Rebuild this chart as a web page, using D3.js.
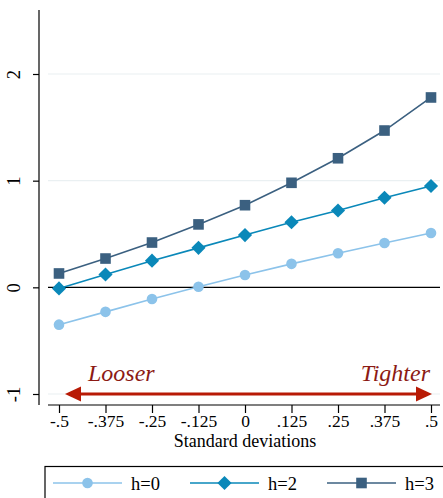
<!DOCTYPE html>
<html>
<head>
<meta charset="utf-8">
<script src="https://cdn.jsdelivr.net/npm/d3@7"></script>
<style>
  html, body { margin: 0; padding: 0; background: #fff; }
  svg, svg text { font-family: "Liberation Serif", "Times New Roman", Times, serif !important; }
</style>
</head>
<body>
<div id="chart"></div>
<script>
// Shock size in standard deviations
const shocks = [-0.5, -0.375, -0.25, -0.125, 0, 0.125, 0.25, 0.375, 0.5];
const xTickLabels = ["-.5", "-.375", "-.25", "-.125", "0", ".125", ".25", ".375", ".5"];
const yTicks = [-1, 0, 1, 2];
const yTickLabels = ["-1", "0", "1", "2"];

// Responses by horizon
const h0 = [-0.35, -0.23, -0.11, 0.005, 0.115, 0.22, 0.32, 0.415, 0.51];
const h2 = [-0.01, 0.12, 0.25, 0.37, 0.49, 0.61, 0.72, 0.84, 0.95];
const h3 = [0.13, 0.27, 0.42, 0.59, 0.77, 0.98, 1.21, 1.47, 1.78];

const seriesNames = ["h=0", "h=2", "h=3"];
const seriesValues = [h0, h2, h3];
const seriesColors = ["#8cc3ea", "#0a88b9", "#3b6080"];
const seriesShapes = ["circle", "diamond", "square"];

const W = 443, H = 498;
const svg = d3.select("#chart").append("svg").attr("width", W).attr("height", H);

const plot = { left: 48, right: 440, top: 10, bottom: 405 };
const x = d3.scaleLinear().domain([-0.5, 0.5]).range([59, 431]);
const y = d3.scaleLinear().domain([-1, 2]).range([394, 74]);
const tickSize = 17.5;
const labelSize = 18.5;

// Marker generator: circle, square, or square turned 45 degrees
function marker(sel, shape, color) {
  if (shape === "circle") {
    sel.append("circle").attr("r", 5.3).attr("fill", color);
  } else if (shape === "square") {
    sel.append("rect").attr("x", -5.3).attr("y", -5.3).attr("width", 10.6).attr("height", 10.6).attr("fill", color);
  } else {
    sel.append("rect").attr("x", -5).attr("y", -5).attr("width", 10).attr("height", 10)
      .attr("transform", "rotate(45)").attr("fill", color);
  }
}

// Gridlines
svg.append("g").selectAll("line").data(yTicks.filter(d => d !== 0)).join("line")
  .attr("x1", plot.left).attr("x2", plot.right)
  .attr("y1", d => y(d)).attr("y2", d => y(d))
  .attr("stroke", "#eaf0f2").attr("stroke-width", 1.2);

// Zero reference line
svg.append("line")
  .attr("x1", plot.left).attr("x2", plot.right)
  .attr("y1", y(0)).attr("y2", y(0))
  .attr("stroke", "#000").attr("stroke-width", 1.2);

// Y axis
const yAxis = svg.append("g").attr("transform", `translate(39,0)`)
  .call(d3.axisLeft(y).tickValues(yTicks).tickFormat((d, i) => yTickLabels[i]).tickSize(6).tickSizeOuter(0));
yAxis.attr("font-family", null);
yAxis.select(".domain").attr("d", `M0,${plot.top}V${plot.bottom}`).attr("stroke", "#000").attr("stroke-width", 1.2);
yAxis.selectAll(".tick line").attr("stroke", "#000").attr("stroke-width", 1.2);
yAxis.selectAll(".tick text")
  .attr("x", null).attr("dy", null)
  .attr("transform", "translate(-19,0) rotate(-90)")
  .attr("text-anchor", "middle")
  .attr("font-size", labelSize).attr("fill", "#000");

// X axis
const xAxis = svg.append("g").attr("transform", `translate(0,${plot.bottom})`)
  .call(d3.axisBottom(x).tickValues(shocks).tickFormat((d, i) => xTickLabels[i]).tickSize(8).tickSizeOuter(0));
xAxis.attr("font-family", null);
xAxis.select(".domain").attr("d", `M${plot.left},0H${plot.right}`).attr("stroke", "#000").attr("stroke-width", 1.2);
xAxis.selectAll(".tick line").attr("stroke", "#000").attr("stroke-width", 1.2);
xAxis.selectAll(".tick text")
  .attr("y", 22).attr("dy", null)
  .attr("font-size", tickSize).attr("fill", "#000");

svg.append("text")
  .attr("x", 245).attr("y", 447)
  .attr("text-anchor", "middle")
  .attr("font-size", 18)
  .text("Standard deviations");

// Direction arrow along the bottom
const red = "#b81a05";
const arrowY = y(-1);
const ax0 = 65, ax1 = 432;
svg.append("line")
  .attr("x1", ax0 + 12).attr("x2", ax1 - 12)
  .attr("y1", arrowY).attr("y2", arrowY)
  .attr("stroke", red).attr("stroke-width", 3.2);
svg.append("path")
  .attr("d", `M${ax0},${arrowY}L${ax0 + 16},${arrowY - 7.5}L${ax0 + 16},${arrowY + 7.5}Z`)
  .attr("fill", red);
svg.append("path")
  .attr("d", `M${ax1},${arrowY}L${ax1 - 16},${arrowY - 7.5}L${ax1 - 16},${arrowY + 7.5}Z`)
  .attr("fill", red);
svg.append("text")
  .attr("x", 88).attr("y", 381)
  .attr("font-size", 24).attr("font-style", "italic").attr("fill", "#8c1a14")
  .text("Looser");
svg.append("text")
  .attr("x", 430).attr("y", 381)
  .attr("text-anchor", "end")
  .attr("font-size", 24).attr("font-style", "italic").attr("fill", "#8c1a14")
  .text("Tighter");

// Series lines and markers
const line = d3.line().x((d, i) => x(shocks[i])).y(d => y(d));
seriesValues.forEach((vals, k) => {
  const g = svg.append("g");
  g.append("path")
    .attr("d", line(vals))
    .attr("fill", "none")
    .attr("stroke", seriesColors[k])
    .attr("stroke-width", 1.6);
  g.selectAll("g.m").data(vals).join("g")
    .attr("class", "m")
    .attr("transform", (d, i) => `translate(${x(shocks[i])},${y(d)})`)
    .each(function () { marker(d3.select(this), seriesShapes[k], seriesColors[k]); });
});

// Legend
const legend = svg.append("g");
legend.append("rect")
  .attr("x", 45).attr("y", 466.5)
  .attr("width", 410).attr("height", 50)
  .attr("fill", "#fff").attr("stroke", "#000").attr("stroke-width", 1.2);
const legendX = [53, 190, 327];
const ly = 483;
seriesNames.forEach((name, k) => {
  const lx = legendX[k];
  legend.append("line")
    .attr("x1", lx).attr("x2", lx + 69)
    .attr("y1", ly).attr("y2", ly)
    .attr("stroke", seriesColors[k]).attr("stroke-width", 1.6);
  const m = legend.append("g").attr("transform", `translate(${lx + 34.5},${ly})`);
  marker(m, seriesShapes[k], seriesColors[k]);
  legend.append("text")
    .attr("x", lx + 78).attr("y", ly + 6.5)
    .attr("font-size", labelSize)
    .text(name);
});
</script>
</body>
</html>
